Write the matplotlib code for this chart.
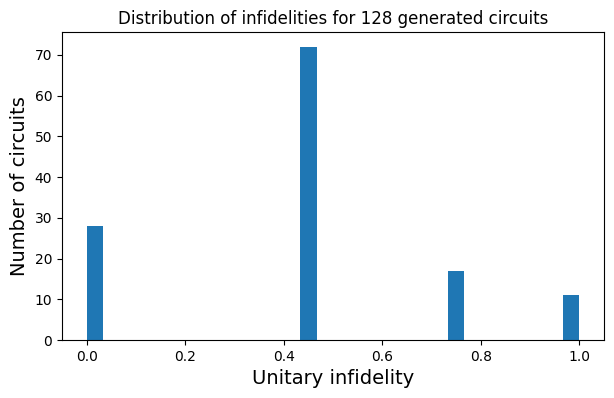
import matplotlib
matplotlib.use("Agg")
import matplotlib.pyplot as plt
import numpy as np

# Infidelity values and how many circuits have each
infidelity_values = [0.0, 0.45, 0.75, 1.0]
circuit_counts = [28, 72, 17, 11]
n_bins = 30

data = np.repeat(infidelity_values, circuit_counts)

fig = plt.figure(figsize=(6.14, 3.98), dpi=100)
ax = fig.add_axes([62/614, 1 - 340/398, (604 - 62)/614, (340 - 32)/398])
ax.hist(data, bins=n_bins, color="#1f77b4")
ax.set_title(f"Distribution of infidelities for {len(data)} generated circuits")
ax.set_xlabel("Unitary infidelity", fontsize=14)
ax.set_ylabel("Number of circuits", fontsize=14)
fig.savefig("out.png", dpi=100)
